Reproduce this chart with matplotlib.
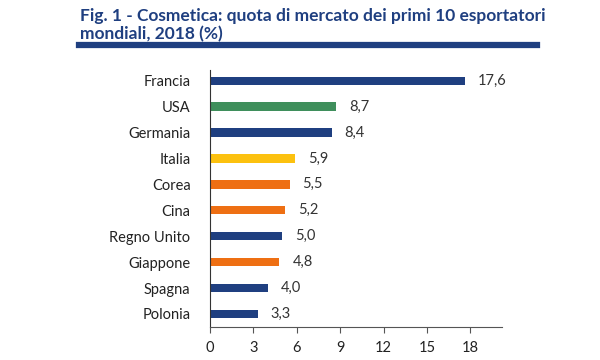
import matplotlib.pyplot as plt

# data
paesi = ["Francia", "USA", "Germania", "Italia", "Corea", "Cina",
         "Regno Unito", "Giappone", "Spagna", "Polonia"]
quote = [17.6, 8.7, 8.4, 5.9, 5.5, 5.2, 5.0, 4.8, 4.0, 3.3]
colori = ["#1f3f80", "#3f8f5c", "#1f3f80", "#fcc10f", "#ee6f13", "#ee6f13",
          "#1f3f80", "#ee6f13", "#1f3f80", "#1f3f80"]
xticks = [0, 3, 6, 9, 12, 15, 18]

plt.rcParams['font.family'] = ['Lato', 'DejaVu Sans']

fig = plt.figure(figsize=(6, 3.6), dpi=100)
ax = fig.add_axes([0.35, 0.092, 0.487, 0.714])

pos = list(range(len(paesi)))
ax.barh(pos, quote, height=0.32, color=colori)
for p, v in zip(pos, quote):
    ax.text(v + 0.9, p, f"{v:.1f}".replace(".", ","), va='center', ha='left',
            fontsize=10.5, color='#333333')

ax.set_yticks(pos)
ax.set_yticklabels(paesi, fontsize=10.5, color='#222222')
ax.set_xticks(xticks)
ax.set_xticklabels([str(t) for t in xticks], fontsize=10.5, color='#222222')
ax.set_xlim(0, 20.2)
ax.set_ylim(9.5, -0.42)

for s in ['top', 'right']:
    ax.spines[s].set_visible(False)
ax.spines['left'].set_color('#333333')
ax.spines['bottom'].set_color('#555555')
ax.tick_params(axis='y', length=0, pad=14)
ax.tick_params(axis='x', length=4, color='#555555', pad=6, direction='out')

# title and rule
fig.text(0.133, 0.978, "Fig. 1 - Cosmetica: quota di mercato dei primi 10 esportatori\nmondiali, 2018 (%)",
         fontsize=12.5, fontweight='bold', color='#1f3f80', va='top', ha='left', linespacing=1.15)
fig.add_artist(plt.Line2D([0.132, 0.895], [0.875, 0.875], color='#1f3f80', linewidth=4.5))

fig.savefig("out.png", dpi=100, facecolor='white')
